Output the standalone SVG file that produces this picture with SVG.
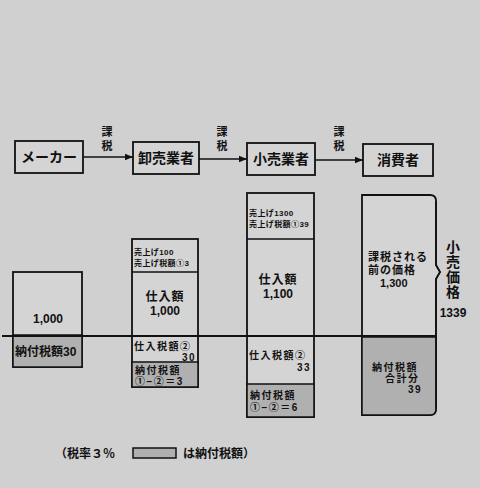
<svg xmlns="http://www.w3.org/2000/svg" width="480" height="488" viewBox="0 0 480 488">
<style>
text{font-family:"Liberation Sans","Noto Sans CJK JP",sans-serif;fill:#111;font-weight:bold}
.bx{fill:#d4d4d4;stroke:#111;stroke-width:1.8}
.sh{fill:#b0b0b0;stroke:#111;stroke-width:1.5}
.ln{stroke:#111;stroke-width:1.5;fill:none}
.t14{font-size:14px}
.t13{font-size:12px;letter-spacing:1px}
.t12{font-size:12px}
.t11{font-size:11px}
.t10{font-size:10px;letter-spacing:1.5px}
.t8{font-size:8px;letter-spacing:0.4px}
.mid{text-anchor:middle}
.end{text-anchor:end}
</style>
<defs>
<marker id="ah" viewBox="0 0 10 10" refX="10" refY="5" markerWidth="8" markerHeight="8" markerUnits="userSpaceOnUse" orient="auto">
<path d="M0,1 L10,5 L0,9 Z" fill="#111"/>
</marker>
</defs>
<rect width="480" height="488" fill="#d0d0d0"/>

<g id="maker">
<rect class="bx" x="15" y="141" width="68" height="32"/>
<text class="t14 mid" x="49" y="162">メーカー</text>
</g>
<g id="wholesaler">
<rect class="bx" x="133" y="142" width="66" height="32"/>
<text class="t14 mid" x="166" y="163">卸売業者</text>
</g>
<g id="retailer">
<rect class="bx" x="247" y="143" width="68" height="32"/>
<text class="t14 mid" x="281" y="164">小売業者</text>
</g>
<g id="consumer">
<rect class="bx" x="363" y="144" width="70" height="32"/>
<text class="t14 mid" x="398" y="165">消費者</text>
</g>

<g id="connectors">
<line class="ln" x1="83" y1="157" x2="133" y2="157" marker-end="url(#ah)"/>
<line class="ln" x1="199" y1="159" x2="247" y2="159" marker-end="url(#ah)"/>
<line class="ln" x1="315" y1="160" x2="363" y2="160" marker-end="url(#ah)"/>
<text class="t11 mid" x="107" y="136">課</text>
<text class="t11 mid" x="107" y="150">税</text>
<text class="t11 mid" x="222" y="136">課</text>
<text class="t11 mid" x="222" y="150">税</text>
<text class="t11 mid" x="339" y="136">課</text>
<text class="t11 mid" x="339" y="150">税</text>
</g>

<g id="maker-price">
<rect class="bx" x="13" y="272" width="69" height="95"/>
<rect class="sh" x="13" y="335" width="69" height="32"/>
<text class="t12 mid" x="48" y="323">1,000</text>
<text class="t12" x="15" y="356">納付税額30</text>
</g>

<g id="wholesaler-price">
<rect class="bx" x="132" y="239" width="66" height="148"/>
<line class="ln" x1="132" y1="272" x2="198" y2="272"/>
<rect class="sh" x="132" y="362" width="66" height="25"/>
<text class="t8" x="134" y="255">売上げ100</text>
<text class="t8" x="134" y="266">売上げ税額①3</text>
<text class="t13 mid" x="165" y="301">仕入額</text>
<text class="t12 mid" x="165" y="315">1,000</text>
<text class="t10" x="134" y="350">仕入税額②</text>
<text class="t10 end" x="196" y="361">30</text>
<text class="t10" x="135" y="374">納付税額</text>
<text class="t10" x="135" y="385">①−②＝3</text>
</g>

<g id="retailer-price">
<rect class="bx" x="247" y="193" width="67" height="224"/>
<line class="ln" x1="247" y1="239" x2="314" y2="239"/>
<rect class="sh" x="247" y="384" width="67" height="33"/>
<text class="t8" x="249" y="216">売上げ1300</text>
<text class="t8" x="249" y="227">売上げ税額①39</text>
<text class="t13 mid" x="278" y="284">仕入額</text>
<text class="t12 mid" x="278" y="298">1,100</text>
<text class="t10" x="249" y="359">仕入税額②</text>
<text class="t10 end" x="311" y="371">33</text>
<text class="t10" x="250" y="399">納付税額</text>
<text class="t10" x="250" y="411">①−②＝6</text>
</g>

<g id="consumer-price">
<path class="bx" d="M362,195 H430 Q436,195 436,201 V265 L440,272 L436,279 V409 Q436,415 430,415 H362 Z"/>
<path class="sh" d="M362,337 H436 V409 Q436,415 430,415 H362 Z"/>
<path class="ln" d="M436,201 V265 L440,272 L436,279 V409"/>
<text class="t11" x="368" y="261" letter-spacing="1">課税される</text>
<text class="t11" x="368" y="274" letter-spacing="1">前の価格</text>
<text class="t11" x="380" y="287">1,300</text>
<text class="t10" x="372" y="371">納付税額</text>
<text class="t10" x="385" y="382">合計分</text>
<text class="t10" x="408" y="393">39</text>
</g>

<g id="retail-price-label">
<text class="t14 mid" x="453" y="252">小</text>
<text class="t14 mid" x="453" y="267">売</text>
<text class="t14 mid" x="453" y="282">価</text>
<text class="t14 mid" x="453" y="297">格</text>
<text class="t12 mid" x="453" y="317">1339</text>
</g>

<line id="baseline" x1="2" y1="336" x2="436" y2="336" stroke="#111" stroke-width="1.8"/>

<g id="legend">
<text class="t12" x="55" y="458">（税率３％</text>
<rect class="sh" x="133" y="448" width="43" height="10"/>
<text class="t12" x="183" y="458">は納付税額）</text>
</g>
</svg>
